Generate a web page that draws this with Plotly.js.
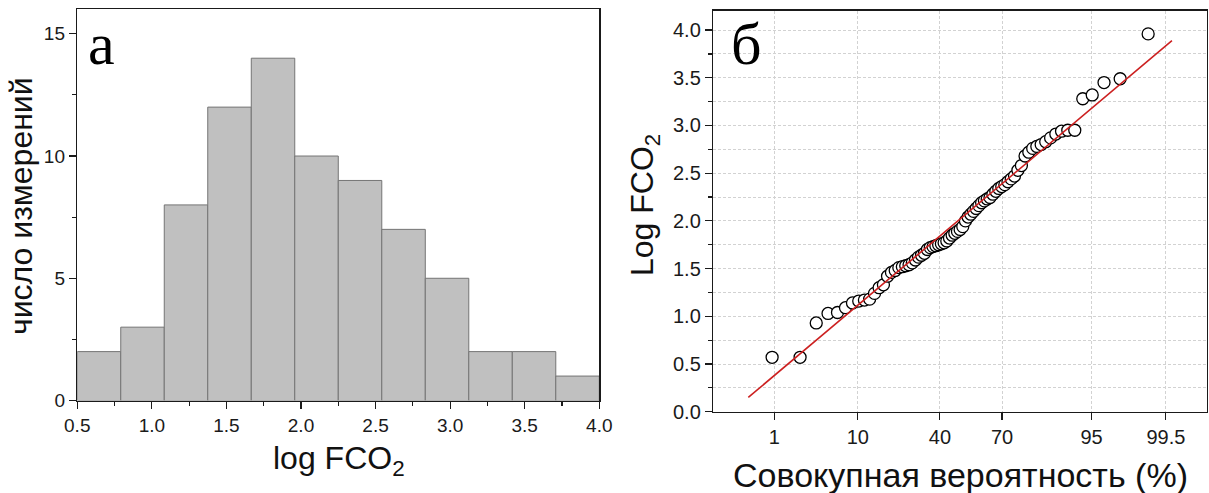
<!DOCTYPE html>
<html>
<head>
<meta charset="utf-8">
<script src="https://cdn.plot.ly/plotly-3.0.1.min.js"></script>
<style>html,body{margin:0;padding:0;background:#fff;}#chart{width:1209px;height:493px;}</style>
</head>
<body>
<div id="chart"></div>
<script>
// ---- Histogram (panel а) ----
const histEdges = [0.5, 0.7917, 1.0833, 1.375, 1.6667, 1.9583, 2.25, 2.5417, 2.8333, 3.125, 3.4167, 3.7083, 4.0];
const histCounts = [2, 3, 8, 12, 14, 10, 9, 7, 5, 2, 2, 1];

// ---- Normal probability plot (panel б): sorted log FCO2 values ----
const probValues = [
  0.57, 0.57,
  0.93, 1.03, 1.04,
  1.09, 1.14, 1.16, 1.17, 1.18, 1.24, 1.30, 1.33,
  1.42, 1.46, 1.48, 1.51, 1.52, 1.53, 1.54, 1.56, 1.59, 1.62, 1.64, 1.66,
  1.70, 1.72, 1.73, 1.74, 1.75, 1.76, 1.77, 1.79, 1.82, 1.85, 1.87, 1.89, 1.91, 1.94,
  2.00, 2.04, 2.07, 2.10, 2.13, 2.16, 2.19, 2.21, 2.23, 2.245,
  2.28, 2.31, 2.34, 2.36, 2.38, 2.41, 2.44, 2.47, 2.53,
  2.58, 2.68, 2.72, 2.76, 2.78, 2.80, 2.83,
  2.87, 2.91, 2.94, 2.95, 2.95,
  3.28, 3.32,
  3.45, 3.49,
  3.96
];
const probTickPercents = [1, 10, 40, 70, 95, 99.5];
const probTickLabels = ['1', '10', '40', '70', '95', '99.5'];
const probAxisPercents = [0.1, 99.9];
const fitPercents = [0.4, 99.6];
const fitValues = [0.15, 3.89];

// inverse standard normal CDF (Acklam)
function norminv(p) {
  const a=[-3.969683028665376e+01,2.209460984245205e+02,-2.759285104469687e+02,1.383577518672690e+02,-3.066479806614716e+01,2.506628277459239e+00];
  const b=[-5.447609879822406e+01,1.615858368580409e+02,-1.556989798598866e+02,6.680131188771972e+01,-1.328068155288572e+01];
  const c=[-7.784894002430293e-03,-3.223964580411365e-01,-2.400758277161838e+00,-2.549732539343734e+00,4.374664141464968e+00,2.938163982698783e+00];
  const d=[7.784695709041462e-03,3.224671290700398e-01,2.445134137142996e+00,3.754408661907416e+00];
  const plow=0.02425, phigh=1-plow; let q, r;
  if (p < plow) { q=Math.sqrt(-2*Math.log(p)); return (((((c[0]*q+c[1])*q+c[2])*q+c[3])*q+c[4])*q+c[5])/((((d[0]*q+d[1])*q+d[2])*q+d[3])*q+1); }
  if (p <= phigh) { q=p-0.5; r=q*q; return (((((a[0]*r+a[1])*r+a[2])*r+a[3])*r+a[4])*r+a[5])*q/(((((b[0]*r+b[1])*r+b[2])*r+b[3])*r+b[4])*r+1); }
  q=Math.sqrt(-2*Math.log(1-p)); return -(((((c[0]*q+c[1])*q+c[2])*q+c[3])*q+c[4])*q+c[5])/((((d[0]*q+d[1])*q+d[2])*q+d[3])*q+1);
}
const pct2z = v => norminv(v / 100);

const n = probValues.length;
// median-rank plotting positions (Benard)
const probX = probValues.map((v, i) => norminv((i + 1 - 0.3) / (n + 0.4)));

const histX = histCounts.map((c, i) => (histEdges[i] + histEdges[i + 1]) / 2);
const histW = histCounts.map((c, i) => histEdges[i + 1] - histEdges[i]);

const FONT = 'Liberation Sans, Arial, sans-serif';
const AX = '#1a1a1a';
const GRID = '#d2d2d2';

const traces = [
  { type: 'bar', x: histX, y: histCounts, width: histW, xaxis: 'x', yaxis: 'y',
    marker: { color: '#c0c0c0', line: { color: '#747474', width: 1 } }, hoverinfo: 'x+y' },
  { type: 'scatter', mode: 'markers', x: probX, y: probValues, xaxis: 'x2', yaxis: 'y2',
    marker: { symbol: 'circle', size: 12, color: '#ffffff', line: { color: '#000000', width: 1.3 } } },
  { type: 'scatter', mode: 'lines', x: fitPercents.map(pct2z), y: fitValues, xaxis: 'x2', yaxis: 'y2',
    line: { color: '#cc2020', width: 1.6 } }
];

const baseAxis = {
  showline: true, mirror: true, linecolor: AX, linewidth: 1.5,
  ticks: 'outside', ticklen: 7, tickwidth: 1.2, tickcolor: AX,
  zeroline: false, showgrid: false, fixedrange: true,
  tickfont: { family: FONT, size: 19, color: '#1a1a1a' }
};
const rightTickFont = { family: FONT, size: 20, color: '#1a1a1a' };

const layout = {
  width: 1209, height: 493,
  margin: { l: 0, r: 0, t: 0, b: 0 },
  paper_bgcolor: '#ffffff', plot_bgcolor: '#ffffff',
  showlegend: false, bargap: 0,
  xaxis: Object.assign({}, baseAxis, {
    domain: [0.0639, 0.4957], range: [0.5, 4.0], anchor: 'y',
    tick0: 0.5, dtick: 0.5, tickformat: '.1f',
    minor: { dtick: 0.25, ticks: 'outside', ticklen: 4, tickcolor: AX, tickwidth: 1.2 }
  }),
  yaxis: Object.assign({}, baseAxis, {
    domain: [0.1876, 0.9811], range: [0, 16], anchor: 'x',
    tick0: 0, dtick: 5,
    minor: { dtick: 2.5, ticks: 'outside', ticklen: 4, tickcolor: AX, tickwidth: 1.2 }
  }),
  xaxis2: Object.assign({}, baseAxis, {
    domain: [0.590, 0.9983], range: probAxisPercents.map(pct2z), anchor: 'y2',
    tickmode: 'array', tickvals: probTickPercents.map(pct2z), ticktext: probTickLabels,
    tickfont: rightTickFont,
    showgrid: true, gridcolor: GRID, gridwidth: 1, griddash: '3px,2px'
  }),
  yaxis2: Object.assign({}, baseAxis, {
    domain: [0.1649, 0.9777], range: [0, 4.2], anchor: 'x2',
    tick0: 0, dtick: 0.5, tickformat: '.1f', tickfont: rightTickFont,
    showgrid: true, gridcolor: GRID, gridwidth: 1, griddash: '3px,2px',
    minor: { dtick: 0.25, ticks: 'outside', ticklen: 4, tickcolor: AX, tickwidth: 1.2,
             showgrid: true, gridcolor: GRID, gridwidth: 1, griddash: '3px,2px' }
  }),
  annotations: [
    { text: 'а', xref: 'paper', yref: 'paper', x: 0.071, y: (493 - 44) / 493, xanchor: 'left', yanchor: 'middle',
      showarrow: false, font: { family: 'Liberation Serif, Times New Roman, serif', size: 60, color: '#000' } },
    { text: 'б', xref: 'paper', yref: 'paper', x: 0.603, y: (493 - 44) / 493, xanchor: 'left', yanchor: 'middle',
      showarrow: false, font: { family: 'Liberation Serif, Times New Roman, serif', size: 60, color: '#000' } },
    { text: 'число измерений', xref: 'paper', yref: 'paper', x: 21 / 1209, y: (493 - 206) / 493,
      xanchor: 'center', yanchor: 'middle', textangle: -90, showarrow: false,
      font: { family: FONT, size: 32, color: '#111' } },
    { text: 'log FCO<sub>2</sub>', xref: 'paper', yref: 'paper', x: 339 / 1209, y: (493 - 460) / 493,
      xanchor: 'center', yanchor: 'middle', showarrow: false,
      font: { family: FONT, size: 32, color: '#111' } },
    { text: 'Log FCO<sub>2</sub>', xref: 'paper', yref: 'paper', x: 644 / 1209, y: (493 - 205) / 493,
      xanchor: 'center', yanchor: 'middle', textangle: -90, showarrow: false,
      font: { family: FONT, size: 32, color: '#111' } },
    { text: 'Совокупная вероятность (%)', xref: 'paper', yref: 'paper', x: 961 / 1209, y: (493 - 475) / 493,
      xanchor: 'center', yanchor: 'middle', showarrow: false,
      font: { family: FONT, size: 34, color: '#111' } }
  ]
};

Plotly.newPlot('chart', traces, layout, { staticPlot: true, displayModeBar: false });
</script>
</body>
</html>
